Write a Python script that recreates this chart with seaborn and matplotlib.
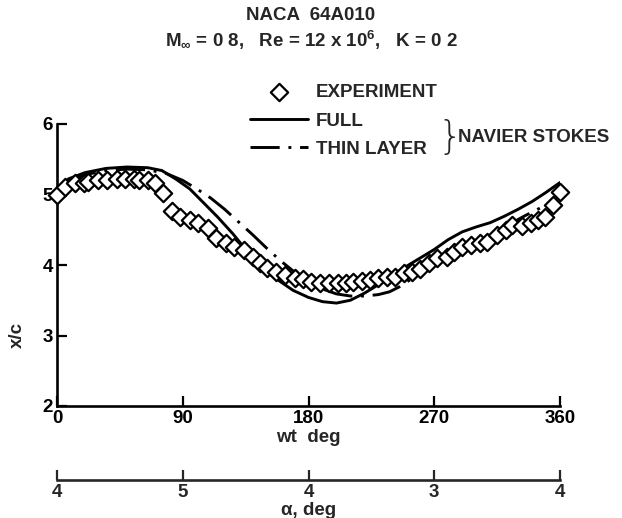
import numpy as np
import pandas as pd
import matplotlib
matplotlib.use("Agg")
import matplotlib.pyplot as plt
import seaborn as sns

# Experimental data: phase angle wt (deg) vs shock position x/c
exp_wt = [0, 6, 13, 19, 22, 29, 36, 43, 49, 55, 59, 65, 70, 76, 82, 88, 95, 101,
          108, 114, 121, 127, 134, 140, 145, 150, 157, 163, 170, 176, 182, 188,
          195, 201, 207, 212, 218, 224, 230, 236, 242, 248, 254, 260, 266, 272,
          279, 284, 290, 296, 303, 308, 315, 321, 326, 333, 339, 344, 349, 355, 360]
exp_xc = [5.00, 5.10, 5.16, 5.16, 5.18, 5.20, 5.21, 5.22, 5.22, 5.22, 5.20, 5.20,
          5.16, 5.02, 4.77, 4.68, 4.64, 4.60, 4.52, 4.38, 4.31, 4.26, 4.21, 4.11,
          4.03, 3.96, 3.90, 3.86, 3.82, 3.80, 3.76, 3.75, 3.74, 3.74, 3.75, 3.76,
          3.77, 3.79, 3.81, 3.83, 3.83, 3.88, 3.90, 3.94, 4.03, 4.10, 4.11, 4.18,
          4.26, 4.28, 4.31, 4.33, 4.42, 4.50, 4.57, 4.55, 4.60, 4.64, 4.68, 4.85, 5.04]

# Full Navier-Stokes computation
full_wt = [8, 20, 35, 50, 65, 75, 85, 95, 105, 115, 126, 140, 155, 169, 180, 190,
           200, 210, 220, 230, 240, 250, 260, 270, 280, 290, 300, 310, 320, 330,
           340, 350, 360]
full_xc = [5.22, 5.31, 5.37, 5.39, 5.38, 5.34, 5.22, 5.08, 4.88, 4.68, 4.44, 4.10,
           3.83, 3.64, 3.54, 3.48, 3.46, 3.50, 3.60, 3.72, 3.85, 3.98, 4.10, 4.22,
           4.36, 4.47, 4.54, 4.60, 4.69, 4.79, 4.90, 5.03, 5.17]

# Thin-layer Navier-Stokes computation
thin_wt = [8, 20, 35, 50, 65, 78, 90, 100, 110, 120, 130, 140, 150, 160, 170, 180,
           190, 200, 210, 220, 230, 238, 245, 255, 265, 275, 285, 295, 305, 315,
           325, 335, 345, 352]
thin_xc = [5.18, 5.28, 5.34, 5.36, 5.35, 5.30, 5.20, 5.08, 4.95, 4.79, 4.61, 4.43,
           4.24, 4.06, 3.90, 3.77, 3.66, 3.59, 3.56, 3.56, 3.58, 3.62, 3.69, 3.82,
           3.95, 4.07, 4.18, 4.27, 4.35, 4.47, 4.59, 4.70, 4.80, 4.88]

wt_ticks = [0, 90, 180, 270, 360]
alpha_labels = ["4", "5", "4", "3", "4"]
y_ticks = [2, 3, 4, 5, 6]

sns.set_theme(style="ticks")
FONT = "Liberation Sans"
plt.rcParams["font.family"] = [FONT, "DejaVu Sans"]
plt.rcParams["font.weight"] = "bold"
plt.rcParams["mathtext.fontset"] = "custom"
plt.rcParams["mathtext.rm"] = FONT + ":bold"
plt.rcParams["mathtext.it"] = FONT + ":bold"
plt.rcParams["mathtext.bf"] = FONT + ":bold"

FS = 13.5

fig = plt.figure(figsize=(6.22, 5.18), dpi=100)
ax = fig.add_axes([57 / 622, 1 - 406 / 518, (560 - 57) / 622, (406 - 124) / 518])

df_exp = pd.DataFrame({"wt": exp_wt, "xc": exp_xc})
df_full = pd.DataFrame({"wt": full_wt, "xc": full_xc})
df_thin = pd.DataFrame({"wt": thin_wt, "xc": thin_xc})

lw = 2.1
sns.lineplot(data=df_full, x="wt", y="xc", ax=ax, color="black", lw=lw,
             estimator=None, sort=False, label="FULL", zorder=2)
sns.lineplot(data=df_thin, x="wt", y="xc", ax=ax, color="black", lw=lw,
             estimator=None, sort=False, label="THIN LAYER", zorder=2)
ax.lines[1].set_linestyle((0, (10, 3, 1.0, 3)))
sns.scatterplot(data=df_exp, x="wt", y="xc", ax=ax, marker="D", s=78,
                facecolor="white", edgecolor="black", linewidth=1.6,
                label="EXPERIMENT", zorder=3, clip_on=False)

ax.set_xlim(0, 360)
ax.set_ylim(2, 6)
ax.set_xticks(wt_ticks)
ax.set_yticks(y_ticks)
for s in ["top", "right"]:
    ax.spines[s].set_visible(False)
for s in ["left", "bottom"]:
    ax.spines[s].set_linewidth(1.9)
    ax.spines[s].set_color("black")
ax.tick_params(axis="both", direction="in", length=7, width=1.6, colors="black",
               labelsize=FS, pad=3)
ax.set_xlabel("wt  deg", fontsize=FS, fontweight="bold", labelpad=1)
ax.set_ylabel("x/c", fontsize=FS, fontweight="bold")
ax.yaxis.set_label_coords(-0.062, 0.25)

# Angle-of-attack scale below the phase axis
sec = ax.secondary_xaxis(-0.262)
sec.set_xticks(wt_ticks)
sec.set_xticklabels(alpha_labels)
sec.spines["bottom"].set_linewidth(1.9)
sec.tick_params(axis="x", direction="in", length=7, width=1.6, labelsize=FS, pad=3)
sec.set_xlabel("α, deg", fontsize=FS, fontweight="bold", labelpad=1)

# Legend
h, l = ax.get_legend_handles_labels()
order = [l.index("EXPERIMENT"), l.index("FULL"), l.index("THIN LAYER")]
leg = ax.legend([h[i] for i in order], [l[i] for i in order],
                loc="upper left", bbox_to_anchor=(250 / 622, 1 - 84 / 518),
                bbox_transform=fig.transFigure, frameon=False,
                prop={"family": FONT, "weight": "bold", "size": FS},
                handlelength=3.1, handletextpad=0.4, labelspacing=0.6,
                borderpad=0, borderaxespad=0, markerscale=1.0)

fig.text(450 / 622, 1 - 138 / 518, "}", fontsize=28, fontweight="light",
         family="DejaVu Sans", ha="center", va="center")
fig.text(458 / 622, 1 - 138 / 518, "NAVIER STOKES", fontsize=FS, fontweight="bold",
         ha="left", va="center")

fig.text(0.5, 1 - 15 / 518, "NACA  64A010", fontsize=FS, fontweight="bold",
         ha="center", va="center")
fig.text(0.5, 1 - 40 / 518,
         r"M$_{\infty}$ = 0 8,   Re = 12 x 10$^{6}$,   K = 0 2",
         fontsize=FS, fontweight="bold", ha="center", va="center")

fig.savefig("out.png", dpi=100, facecolor="white")
